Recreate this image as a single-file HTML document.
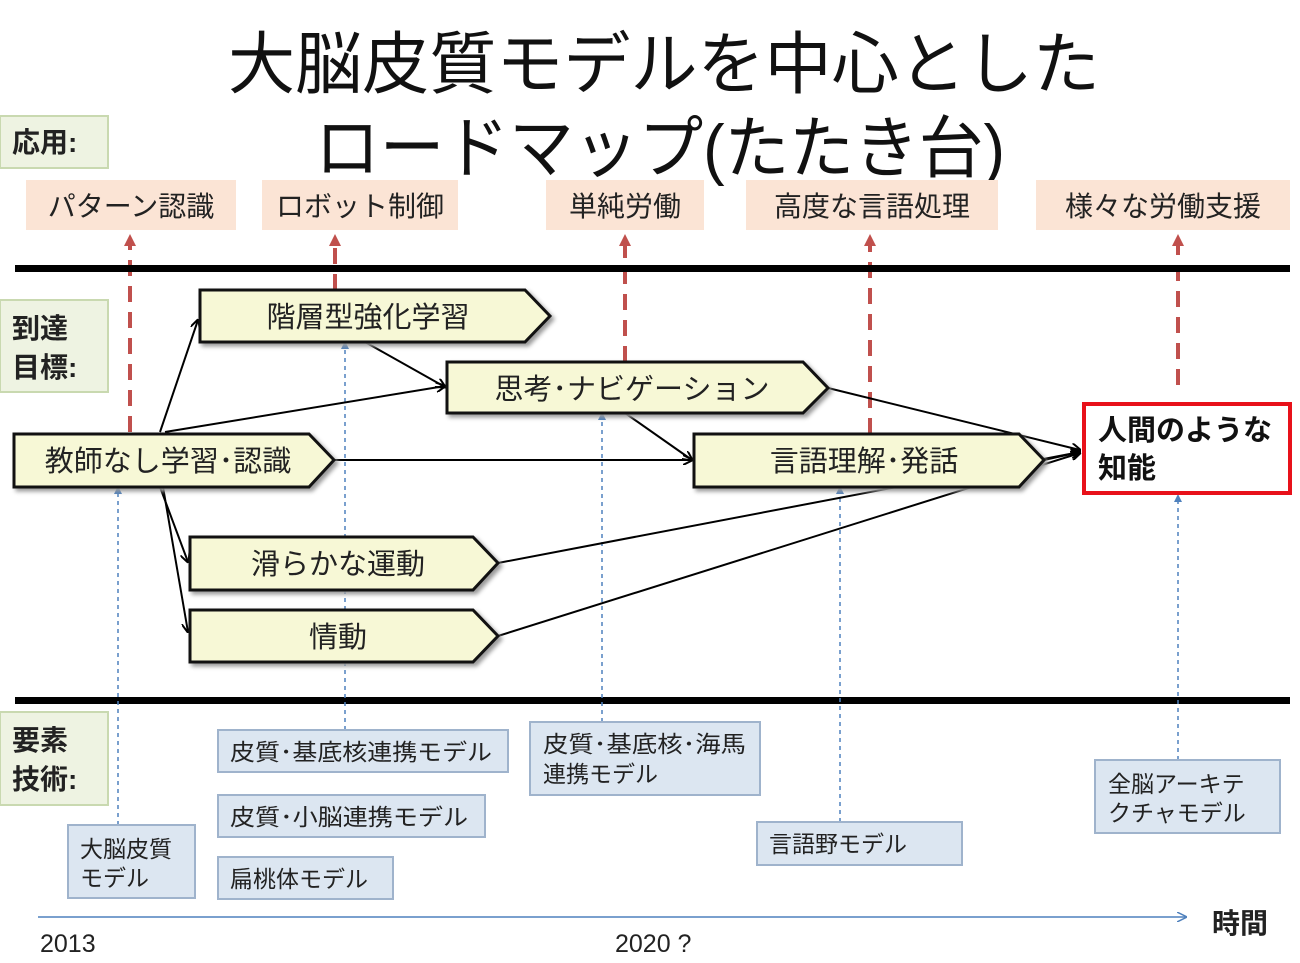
<!DOCTYPE html>
<html><head><meta charset="utf-8"><style>
body{margin:0;background:#fff;}
svg text{font-family:"Liberation Sans","Noto Sans CJK JP",sans-serif;}
</style></head><body>
<svg width="1300" height="958" viewBox="0 0 1300 958" xmlns="http://www.w3.org/2000/svg">
<defs>
<marker id="ab" markerWidth="10" markerHeight="10" refX="9" refY="5" orient="auto" markerUnits="userSpaceOnUse"><path d="M0,0 L10,5 L0,10" fill="none" stroke="#000" stroke-width="2"/></marker>
<marker id="ar" markerWidth="12" markerHeight="12" refX="6" refY="6" orient="auto" markerUnits="userSpaceOnUse"><path d="M0,0 L12,6 L0,12 z" fill="#c0504d"/></marker>
<marker id="au" markerWidth="8" markerHeight="8" refX="4" refY="4" orient="auto" markerUnits="userSpaceOnUse"><path d="M0,0 L8,4 L0,8 z" fill="#4f81bd"/></marker>
<marker id="at" markerWidth="10" markerHeight="10" refX="9" refY="5" orient="auto" markerUnits="userSpaceOnUse"><path d="M0,0 L10,5 L0,10" fill="none" stroke="#4f81bd" stroke-width="1.5"/></marker>
</defs>
<g font-size="68" fill="#111">
<text x="228" y="88" textLength="872" lengthAdjust="spacingAndGlyphs">大脳皮質モデルを中心とした</text>
<text x="315" y="172" textLength="690" lengthAdjust="spacingAndGlyphs">ロードマップ(たたき台)</text>
</g>
<g fill="#eef3e2" stroke="#c9d9b0" stroke-width="2">
<rect x="0" y="116" width="108" height="52"/>
<rect x="0" y="300" width="108" height="92"/>
<rect x="0" y="712" width="108" height="93"/>
</g>
<g font-size="28" font-weight="bold" fill="#222">
<text x="12" y="152">応用:</text>
<text x="12" y="338">到達</text><text x="12" y="377">目標:</text>
<text x="12" y="750">要素</text><text x="12" y="789">技術:</text>
</g>
<g fill="#fbe4d5">
<rect x="26" y="180" width="210" height="50"/>
<rect x="262" y="180" width="196" height="50"/>
<rect x="546" y="180" width="158" height="50"/>
<rect x="746" y="180" width="252" height="50"/>
<rect x="1036" y="180" width="254" height="50"/>
</g>
<g font-size="28" fill="#222" text-anchor="middle">
<text x="131" y="216">パターン認識</text>
<text x="360" y="216">ロボット制御</text>
<text x="625" y="216">単純労働</text>
<text x="872" y="216">高度な言語処理</text>
<text x="1163" y="216">様々な労働支援</text>
</g>
<g stroke="#c0504d" stroke-width="4" stroke-dasharray="16,10" fill="none" marker-end="url(#ar)">
<line x1="130" y1="432" x2="130" y2="240"/>
<line x1="335" y1="290" x2="335" y2="240"/>
<line x1="625" y1="362" x2="625" y2="240"/>
<line x1="870" y1="434" x2="870" y2="240"/>
<line x1="1178" y1="385" x2="1178" y2="240"/>
</g>
<rect x="15" y="265" width="1275" height="7" fill="#000"/>
<rect x="15" y="697" width="1275" height="7" fill="#000"/>
<g stroke="#4f81bd" stroke-width="1.5" stroke-dasharray="4,4" fill="none" marker-end="url(#au)">
<line x1="118" y1="825" x2="118" y2="490"/>
<line x1="345" y1="730" x2="345" y2="345"/>
<line x1="602" y1="722" x2="602" y2="416"/>
<line x1="840" y1="822" x2="840" y2="490"/>
<line x1="1178" y1="760" x2="1178" y2="498"/>
</g>
<g stroke="#000" stroke-width="2" fill="none">
<line x1="160" y1="432" x2="198" y2="320" marker-end="url(#ab)"/>
<line x1="165" y1="432" x2="445" y2="386" marker-end="url(#ab)"/>
<line x1="365" y1="342" x2="445" y2="387" marker-end="url(#ab)"/>
<line x1="334" y1="460" x2="692" y2="460" marker-end="url(#ab)"/>
<line x1="160" y1="487" x2="188" y2="562" marker-end="url(#ab)"/>
<line x1="163" y1="487" x2="188" y2="632" marker-end="url(#ab)"/>
<line x1="625" y1="413" x2="692" y2="460" marker-end="url(#ab)"/>
<line x1="828" y1="388" x2="1080" y2="450" marker-end="url(#ab)"/>
<line x1="1044" y1="460" x2="1080" y2="452" marker-end="url(#ab)"/>
<line x1="498" y1="563" x2="1080" y2="452" marker-end="url(#ab)"/>
<line x1="498" y1="636" x2="1080" y2="453" marker-end="url(#ab)"/>
</g>
<g fill="#f7f8d6" stroke="#111" stroke-width="3">
<path d="M200,290 H525 L550,316 L525,342 H200 Z" filter="drop-shadow(3px 3px 2px #999)"/>
<path d="M447,362 H803 L828,388 L803,413 H447 Z" filter="drop-shadow(3px 3px 2px #999)"/>
<path d="M14,434 H309 L334,460 L309,487 H14 Z" filter="drop-shadow(3px 3px 2px #999)"/>
<path d="M694,434 H1019 L1044,460 L1019,487 H694 Z" filter="drop-shadow(3px 3px 2px #999)"/>
<path d="M190,537 H473 L498,563 L473,590 H190 Z" filter="drop-shadow(3px 3px 2px #999)"/>
<path d="M190,610 H473 L498,636 L473,662 H190 Z" filter="drop-shadow(3px 3px 2px #999)"/>
</g>
<g font-size="29" fill="#222" text-anchor="middle">
<text x="368" y="327">階層型強化学習</text>
<text x="632" y="399">思考･ナビゲーション</text>
<text x="168" y="471">教師なし学習･認識</text>
<text x="864" y="471">言語理解･発話</text>
<text x="338" y="574">滑らかな運動</text>
<text x="338" y="647">情動</text>
</g>
<rect x="1084" y="404" width="206" height="89" fill="#fff" stroke="#e8111a" stroke-width="4"/>
<g font-size="29" font-weight="bold" fill="#111">
<text x="1098" y="440">人間のような</text>
<text x="1098" y="478">知能</text>
</g>
<g fill="#dce6f1" stroke="#9fb3cc" stroke-width="2">
<rect x="68" y="825" width="127" height="73"/>
<rect x="218" y="730" width="290" height="42"/>
<rect x="218" y="795" width="267" height="42"/>
<rect x="218" y="857" width="175" height="42"/>
<rect x="530" y="722" width="230" height="73"/>
<rect x="757" y="822" width="205" height="43"/>
<rect x="1095" y="760" width="185" height="73"/>
</g>
<g font-size="23" fill="#222">
<text x="80" y="857">大脳皮質</text><text x="80" y="886">モデル</text>
<text x="230" y="760" textLength="262" lengthAdjust="spacingAndGlyphs">皮質･基底核連携モデル</text>
<text x="230" y="825" textLength="238" lengthAdjust="spacingAndGlyphs">皮質･小脳連携モデル</text>
<text x="230" y="887">扁桃体モデル</text>
<text x="543" y="752" textLength="203" lengthAdjust="spacingAndGlyphs">皮質･基底核･海馬</text><text x="543" y="782">連携モデル</text>
<text x="769" y="852">言語野モデル</text>
<text x="1108" y="792">全脳アーキテ</text><text x="1108" y="821">クチャモデル</text>
</g>
<line x1="38" y1="917" x2="1186" y2="917" stroke="#4f81bd" stroke-width="1.5" marker-end="url(#at)"/>
<text x="1212" y="933" font-size="28" font-weight="bold" fill="#222">時間</text>
<g font-size="25" fill="#222">
<text x="40" y="952">2013</text>
<text x="615" y="952">2020 ?</text>
</g>
</svg>
</body></html>
